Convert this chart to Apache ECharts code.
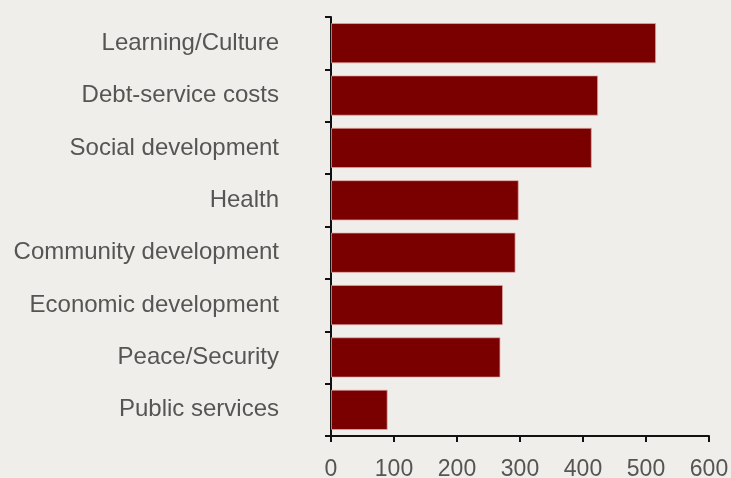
<!DOCTYPE html>
<html>
<head>
<meta charset="utf-8">
<script src="https://cdn.jsdelivr.net/npm/echarts@6/dist/echarts.min.js"></script>
<style>
html,body{margin:0;padding:0;background:#f0eeea;}
#chart{width:731px;height:478px;}
</style>
</head>
<body>
<div id="chart"></div>
<script>
const categories = ["Learning/Culture","Debt-service costs","Social development","Health","Community development","Economic development","Peace/Security","Public services"];
const values = [516, 424, 414, 298, 293, 273, 269, 90];
const xTicks = {min: 0, max: 600, interval: 100};

const chart = echarts.init(document.getElementById('chart'));
chart.setOption({
  backgroundColor: '#f0eeea',
  animation: false,
  grid: {left: 331, right: 22, top: 17, bottom: 42, containLabel: false, outerBoundsMode: 'none'},
  xAxis: {
    type: 'value', min: xTicks.min, max: xTicks.max, interval: xTicks.interval,
    splitLine: {show: false},
    axisLine: {show: true, lineStyle: {color: '#111', width: 2}},
    axisTick: {show: true, length: 6, lineStyle: {color: '#111', width: 2}},
    axisLabel: {color: '#555', fontSize: 23, fontFamily: 'Liberation Sans', margin: 22}
  },
  yAxis: {
    type: 'category', data: categories, inverse: true,
    axisLine: {show: true, lineStyle: {color: '#111', width: 2}},
    axisTick: {show: true, length: 6, lineStyle: {color: '#111', width: 2}},
    axisLabel: {color: '#555', fontSize: 24, fontFamily: 'Liberation Sans', margin: 52}
  },
  series: [{
    type: 'bar', data: values, barCategoryGap: '23%',
    itemStyle: {color: '#7a0000', borderColor: 'rgba(230,170,170,0.7)', borderWidth: 1}
  }]
});
</script>
</body>
</html>
